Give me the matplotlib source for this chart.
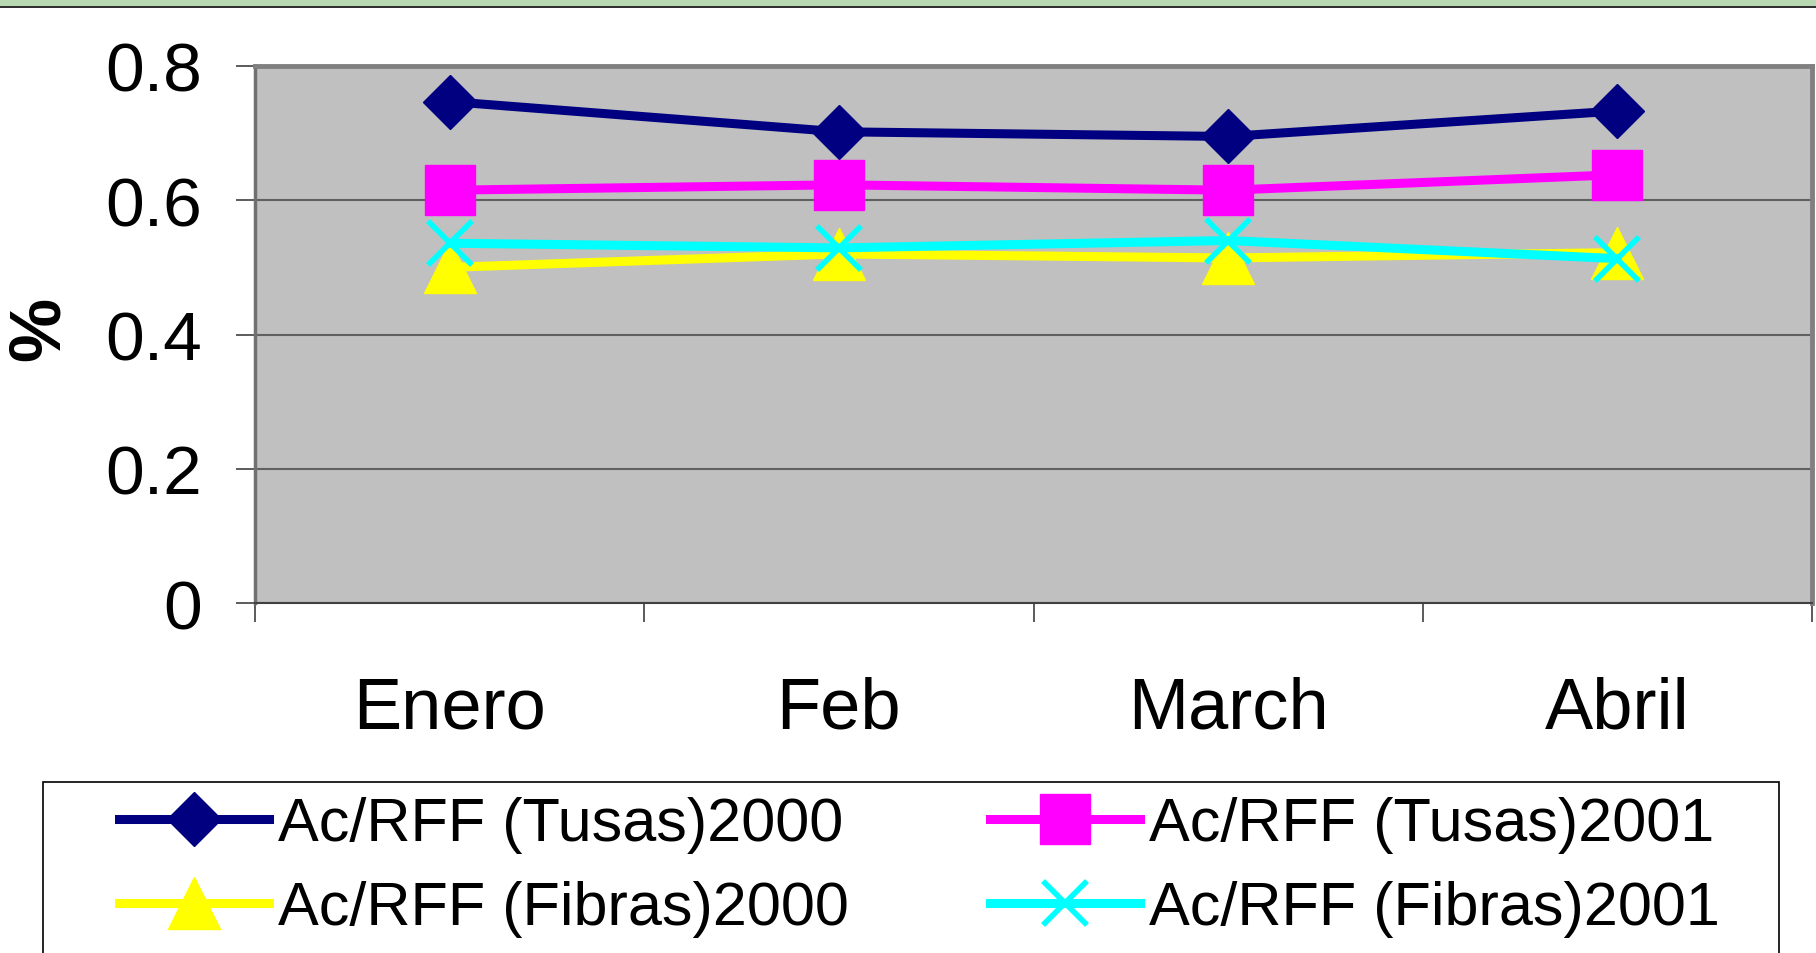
import numpy as np
import matplotlib
matplotlib.use("Agg")
import matplotlib.pyplot as plt
from matplotlib.patches import Rectangle

# chart data
months = ["Enero", "Feb", "March", "Abril"]
tusas_2000 = [0.747, 0.702, 0.695, 0.733]
tusas_2001 = [0.615, 0.623, 0.615, 0.638]
fibras_2000 = [0.500, 0.520, 0.514, 0.522]
fibras_2001 = [0.536, 0.529, 0.540, 0.513]
y_ticks = [0, 0.2, 0.4, 0.6, 0.8]
y_tick_labels = ["0", "0.2", "0.4", "0.6", "0.8"]

plt.rcParams['font.family'] = ['Liberation Sans', 'DejaVu Sans']

W, H = 1816, 954
fig = plt.figure(figsize=(W / 100, H / 100), dpi=100)
fig.patch.set_facecolor("white")

# green strip along the top edge
fig.patches.append(Rectangle((0, 1 - 7 / H), 1, 7 / H, transform=fig.transFigure,
                             facecolor="#b9d9b3", edgecolor="none"))
fig.patches.append(Rectangle((0, 1 - 9 / H), 1, 2 / H, transform=fig.transFigure,
                             facecolor="#303030", edgecolor="none"))

# plot area in pixel coordinates
left, right, top, bottom = 255, 1812, 67, 604
ax = fig.add_axes([left / W, 1 - bottom / H, (right - left) / W, (bottom - top) / H])
ax.set_facecolor("#c0c0c0")

x = np.arange(len(months)) + 0.5

l1, = ax.plot(x, tusas_2000, color="#000080", lw=6.5, marker="D", ms=27, mec="#000080",
              label="Ac/RFF (Tusas)2000", zorder=3)
l2, = ax.plot(x, tusas_2001, color="#ff00ff", lw=6.5, marker="s", ms=36, mec="#ff00ff",
              label="Ac/RFF (Tusas)2001", zorder=3)
l3, = ax.plot(x, fibras_2000, color="#ffff00", lw=6.5, marker="^", ms=38, mec="#ffff00",
              label="Ac/RFF (Fibras)2000", zorder=3)
l4, = ax.plot(x, fibras_2001, color="#00ffff", lw=6.5, marker="x", ms=32, mew=4, mec="#00ffff",
              label="Ac/RFF (Fibras)2001", zorder=3)

ax.set_xlim(0, len(months))
ax.set_ylim(0, 0.8)

ax.set_yticks(y_ticks)
ax.set_yticklabels(y_tick_labels)
ax.yaxis.grid(True, color="#606060", lw=1.5)
ax.set_axisbelow(True)

ax.set_xticks(x)
ax.set_xticklabels(months)
ax.set_xticks(np.arange(len(months) + 1), minor=True)
ax.tick_params(axis="x", which="major", length=0, pad=52, labelsize=52)
ax.tick_params(axis="x", which="minor", length=14, width=1.2, color="#404040", direction="out")
ax.tick_params(axis="y", length=14, width=1.2, color="#404040", pad=24, labelsize=50)

for s in ["top", "right"]:
    ax.spines[s].set_color("#808080")
    ax.spines[s].set_linewidth(3.5)
ax.spines["left"].set_color("#707070")
ax.spines["left"].set_linewidth(2.5)
ax.spines["bottom"].set_color("#404040")
ax.spines["bottom"].set_linewidth(1.5)

fig.text(40 / W, 1 - 329 / H, "%", rotation=90, fontsize=52, fontweight="bold",
         ha="center", va="center")

# legend box, running off the bottom of the figure
fig.patches.append(Rectangle((43 / W, -0.05), (1779 - 43) / W, 1 - 783 / H + 0.05,
                             transform=fig.transFigure, facecolor="white",
                             edgecolor="black", lw=1.2, zorder=1))

leg_kw = dict(loc="upper left", fontsize=44, frameon=False, handlelength=2.45,
              handletextpad=0.15, borderpad=0, labelspacing=0.45, borderaxespad=0)
leg1 = fig.legend(handles=[l1, l3], bbox_to_anchor=(119 / W, 1 - 797 / H), **leg_kw)
leg2 = fig.legend(handles=[l2, l4], bbox_to_anchor=(990 / W, 1 - 797 / H), **leg_kw)
leg1.set_zorder(2)
leg2.set_zorder(2)

fig.savefig("out.png", dpi=100)
